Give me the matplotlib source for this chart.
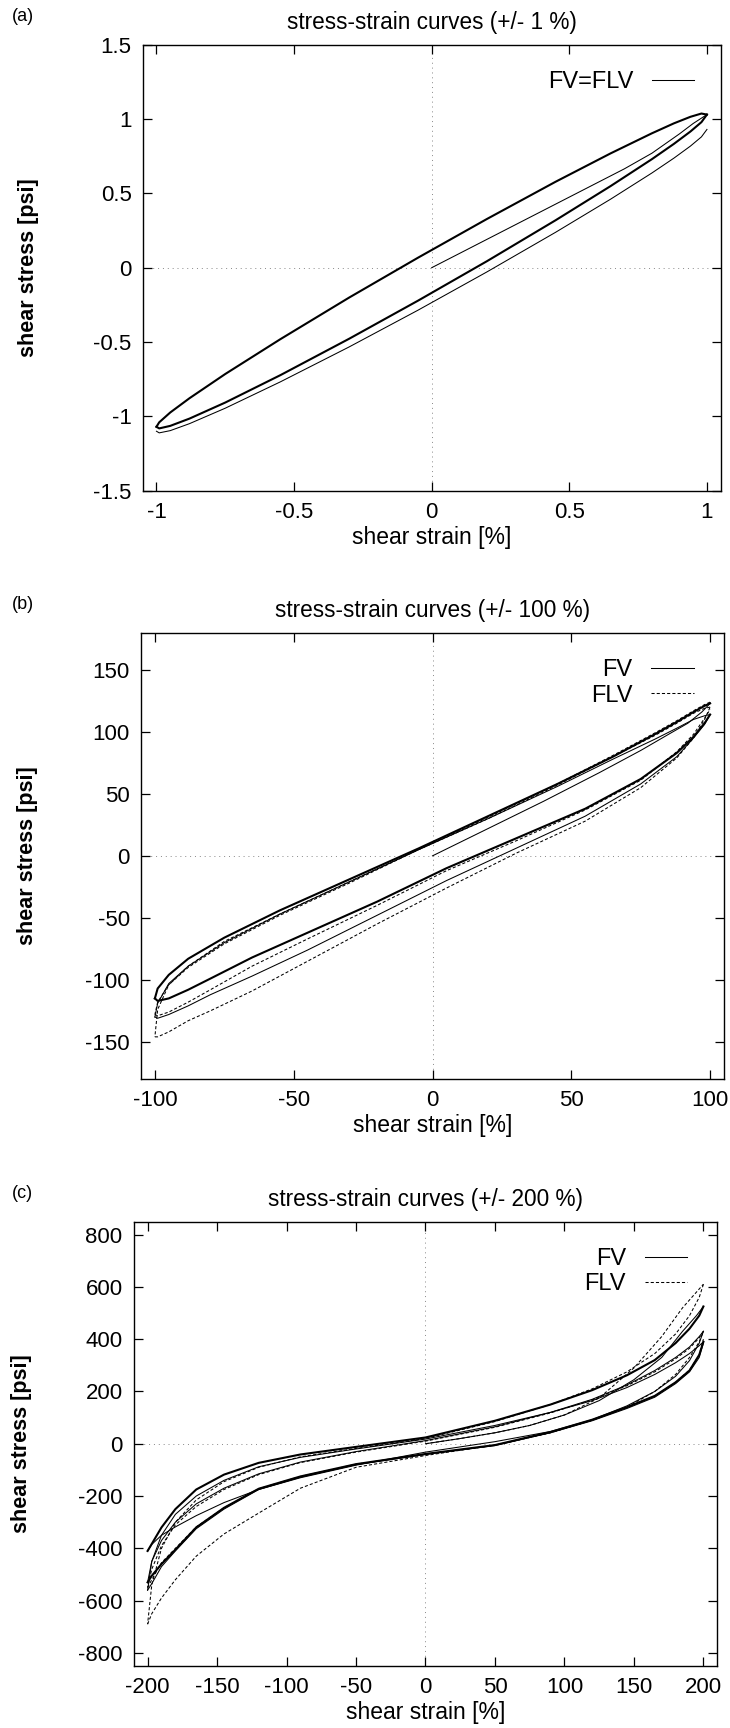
import matplotlib
matplotlib.use("Agg")
import matplotlib.pyplot as plt
from matplotlib.lines import Line2D

plt.rcParams['font.family'] = ['Liberation Sans', 'DejaVu Sans']

# ---------------- panel (a): +/- 1 % ----------------
a_grid_down = [1.0, 0.98, 0.94, 0.88, 0.80, 0.65, 0.45, 0.20, -0.05, -0.30, -0.55, -0.75, -0.88, -0.95, -0.99, -1.0]
a_grid_up = [-1.0, -0.99, -0.95, -0.88, -0.75, -0.55, -0.30, -0.05, 0.20, 0.45, 0.65, 0.80, 0.88, 0.94, 0.98, 1.0]
a_init_x = [0.0, 0.1, 0.2, 0.3, 0.4, 0.5, 0.6, 0.7, 0.8, 0.9, 0.95, 1.0]
a_init_y = [0.0, 0.095, 0.19, 0.285, 0.38, 0.475, 0.57, 0.665, 0.77, 0.90, 0.97, 1.03]
a_upper_y = [1.03, 1.037, 1.015, 0.971, 0.904, 0.769, 0.578, 0.327, 0.067, -0.201, -0.481, -0.715, -0.878, -0.974, -1.040, -1.07]
a_lower_y = [-1.07, -1.081, -1.064, -1.015, -0.907, -0.723, -0.478, -0.222, 0.043, 0.319, 0.549, 0.73, 0.833, 0.916, 0.979, 1.03]
a_outer_y = [-1.10, -1.111, -1.096, -1.049, -0.945, -0.768, -0.533, -0.286, -0.029, 0.238, 0.461, 0.637, 0.737, 0.818, 0.880, 0.93]

# ---------------- panel (b): +/- 100 % ----------------
b_grid_down = [100, 98, 94, 88, 80, 65, 45, 20, -5, -30, -55, -75, -88, -95, -99, -100]
b_grid_up = [-100, -99, -95, -88, -80, -65, -45, -20, 5, 30, 55, 75, 88, 94, 98, 100]
b_init_x = [0, 20, 40, 60, 75, 85, 92, 97, 100]
b_fv_init_y = [0, 22, 44, 67, 85, 98, 107, 116, 123]
b_fv_up1_y = [123, 121, 116, 108, 98, 80, 58, 32, 6, -19, -44, -66, -83, -96, -107, -115]
b_fv_lo1_y = [-115, -117, -115, -108, -99, -82, -62, -37, -10, 14, 38, 62, 83, 96, 107, 114]
b_fv_up2_y = [114, 113, 110, 103, 94, 78, 56, 30, 5, -21, -47, -70, -89, -103, -119, -130]
b_fv_lo2_y = [-130, -131, -128, -121, -112, -97, -76, -48, -20, 6, 32, 58, 80, 95, 106, 114]
b_flv_up1_y = [124, 122, 117, 109, 99, 81, 58, 31, 5, -21, -47, -69, -89, -104, -124, -146]
b_flv_lo1_y = [-146, -146, -142, -133, -125, -109, -85, -55, -26, 2, 28, 55, 79, 95, 110, 120]
b_flv_up2_y = [120, 119, 115, 107, 97, 80, 57, 30, 5, -22, -48, -71, -90, -104, -118, -128]
b_flv_lo2_y = [-128, -129, -126, -118, -108, -89, -67, -40, -12, 12, 37, 61, 84, 98, 111, 118]

# ---------------- panel (c): +/- 200 % ----------------
c_grid_down = [200, 197, 190, 180, 165, 145, 120, 90, 50, 0, -50, -90, -120, -145, -165, -180, -190, -197, -200]
c_grid_up = [-200, -197, -190, -180, -165, -145, -120, -90, -50, 0, 50, 90, 120, 145, 165, 180, 190, 197, 200]
c_init_x = [0, 25, 50, 75, 100, 125, 150, 170, 185, 195, 200]
c_fv_init_y = [0, 20, 42, 70, 110, 165, 245, 330, 430, 490, 525]
c_fv_up1_y = [525, 490, 440, 385, 320, 262, 205, 150, 88, 24, -12, -41, -73, -118, -175, -250, -320, -383, -410]
c_fv_lo1_y = [-410, -385, -350, -318, -275, -225, -175, -130, -82, -32, 8, 47, 92, 145, 200, 258, 318, 385, 430]
c_fv_up2_y = [430, 410, 370, 330, 280, 225, 170, 120, 65, 12, -30, -70, -115, -170, -230, -300, -370, -450, -530]
c_fv_lo2_y = [-530, -505, -460, -405, -320, -245, -172, -125, -78, -39, -5, 45, 92, 140, 183, 235, 280, 340, 390]
c_fv_up3_y = [390, 375, 345, 310, 265, 215, 165, 120, 70, 18, -20, -52, -88, -140, -200, -270, -350, -450, -560]
c_fv_lo3_y = [-560, -535, -470, -410, -325, -250, -175, -128, -80, -41, -7, 42, 88, 135, 178, 230, 275, 330, 385]
c_flv_init_y = [0, 20, 42, 70, 110, 175, 290, 410, 520, 580, 610]
c_flv_up1_y = [610, 560, 490, 420, 345, 275, 210, 150, 85, 20, -18, -50, -90, -145, -215, -300, -400, -540, -690]
c_flv_lo1_y = [-690, -650, -590, -520, -430, -345, -265, -170, -90, -45, -5, 42, 90, 140, 200, 265, 330, 390, 430]
c_flv_up2_y = [430, 405, 365, 325, 275, 222, 168, 118, 63, 10, -32, -72, -118, -175, -240, -310, -390, -480, -550]
c_flv_lo2_y = [-550, -520, -455, -400, -318, -245, -172, -125, -78, -40, -6, 43, 90, 138, 182, 235, 282, 340, 400]

panels = [
    dict(label="(a)", title="stress-strain curves (+/- 1 %)",
         xlim=(-1.05, 1.05), ylim=(-1.5, 1.5),
         xticks=[-1, -0.5, 0, 0.5, 1], xtl=["-1", "-0.5", "0", "0.5", "1"],
         yticks=[-1.5, -1, -0.5, 0, 0.5, 1, 1.5],
         ytl=["-1.5", "-1", "-0.5", "0", "0.5", "1", "1.5"],
         rect=[142.7, 44.7, 720.7, 490.7], ylab_x=39.5),
    dict(label="(b)", title="stress-strain curves (+/- 100 %)",
         xlim=(-105, 105), ylim=(-180, 180),
         xticks=[-100, -50, 0, 50, 100], xtl=["-100", "-50", "0", "50", "100"],
         yticks=[-150, -100, -50, 0, 50, 100, 150],
         ytl=["-150", "-100", "-50", "0", "50", "100", "150"],
         rect=[141.0, 632.7, 724.0, 1079.0], ylab_x=38.5),
    dict(label="(c)", title="stress-strain curves (+/- 200 %)",
         xlim=(-210, 210), ylim=(-850, 850),
         xticks=[-200, -150, -100, -50, 0, 50, 100, 150, 200],
         xtl=["-200", "-150", "-100", "-50", "0", "50", "100", "150", "200"],
         yticks=[-800, -600, -400, -200, 0, 200, 400, 600, 800],
         ytl=["-800", "-600", "-400", "-200", "0", "200", "400", "600", "800"],
         rect=[133.7, 1221.5, 717.3, 1666.0], ylab_x=32.5),
]

W, H = 730, 1728
fig = plt.figure(figsize=(W / 100, H / 100), dpi=100)

axes = []
for p in panels:
    l, t, r, b = p["rect"]
    ax = fig.add_axes([l / W, 1 - b / H, (r - l) / W, (b - t) / H])
    ax.set_xlim(*p["xlim"])
    ax.set_ylim(*p["ylim"])
    ax.set_xticks(p["xticks"])
    ax.set_xticklabels(p["xtl"])
    ax.set_yticks(p["yticks"])
    ax.set_yticklabels(p["ytl"])
    ax.tick_params(direction="in", length=6.5, width=0.9, top=True, right=True,
                   labelsize=16, pad=8)
    for s in ax.spines.values():
        s.set_linewidth(1.0)
    ax.axhline(0, color="#888888", lw=0.7, ls=(0, (1, 4)), zorder=0)
    ax.axvline(0, color="#888888", lw=0.7, ls=(0, (1, 4)), zorder=0)
    ax.set_xlabel("shear strain [%]", fontsize=16.5, labelpad=2)
    ax.set_ylabel("shear stress [psi]", fontsize=15.5, fontweight="bold")
    ax.yaxis.set_label_coords((p["ylab_x"] - l) / (r - l), 0.5)
    fig.text(12 / W, 1 - (t - 28) / H, p["label"], fontsize=13, ha="left", va="center")
    fig.text(((l + r) / 2) / W, 1 - (t - 22) / H, p["title"], fontsize=16.3,
             ha="center", va="center")
    axes.append(ax)

thin = dict(color="black", lw=0.75)
thick = dict(color="black", lw=1.5)
dash_thin = dict(color="black", lw=0.75, ls=(0, (3, 2)))

# (a)
ax = axes[0]
ax.plot(a_init_x, a_init_y, **thin)
ax.plot(a_grid_down, a_upper_y, **thick)
ax.plot(a_grid_up, a_lower_y, **thick)
ax.plot(a_grid_up, a_outer_y, **thin)
ax.legend([Line2D([], [], **thin)], ["FV=FLV"], loc="upper right",
          bbox_to_anchor=(0.971, 0.962), borderaxespad=0, frameon=False,
          markerfirst=False, fontsize=17, handlelength=1.8, handletextpad=0.8)

# (b)
ax = axes[1]
ax.plot(b_init_x, b_fv_init_y, **thin)
ax.plot(b_grid_down, b_fv_up1_y, **thick)
ax.plot(b_grid_up, b_fv_lo1_y, **thick)
ax.plot(b_grid_down, b_fv_up2_y, **thin)
ax.plot(b_grid_up, b_fv_lo2_y, **thin)
ax.plot(b_grid_down, b_flv_up1_y, **dash_thin)
ax.plot(b_grid_up, b_flv_lo1_y, **dash_thin)
ax.plot(b_grid_down, b_flv_up2_y, **dash_thin)
ax.plot(b_grid_up, b_flv_lo2_y, **dash_thin)
ax.legend([Line2D([], [], **thin), Line2D([], [], **dash_thin)], ["FV", "FLV"],
          loc="upper right", bbox_to_anchor=(0.964, 0.962), borderaxespad=0,
          frameon=False, markerfirst=False, fontsize=17, handlelength=1.8,
          handletextpad=0.8, labelspacing=0.15)

# (c)
ax = axes[2]
ax.plot(c_init_x, c_fv_init_y, **thin)
ax.plot(c_grid_down, c_fv_up1_y, **thick)
ax.plot(c_grid_up, c_fv_lo1_y, **thin)
ax.plot(c_grid_down, c_fv_up2_y, **thin)
ax.plot(c_grid_up, c_fv_lo2_y, **thick)
ax.plot(c_grid_down, c_fv_up3_y, **thin)
ax.plot(c_grid_up, c_fv_lo3_y, **thin)
ax.plot(c_init_x, c_flv_init_y, **dash_thin)
ax.plot(c_grid_down, c_flv_up1_y, **dash_thin)
ax.plot(c_grid_up, c_flv_lo1_y, **dash_thin)
ax.plot(c_grid_down, c_flv_up2_y, **dash_thin)
ax.plot(c_grid_up, c_flv_lo2_y, **dash_thin)
ax.legend([Line2D([], [], **thin), Line2D([], [], **dash_thin)], ["FV", "FLV"],
          loc="upper right", bbox_to_anchor=(0.965, 0.962), borderaxespad=0,
          frameon=False, markerfirst=False, fontsize=17, handlelength=1.8,
          handletextpad=0.8, labelspacing=0.15)

fig.savefig("out.png", dpi=100)
